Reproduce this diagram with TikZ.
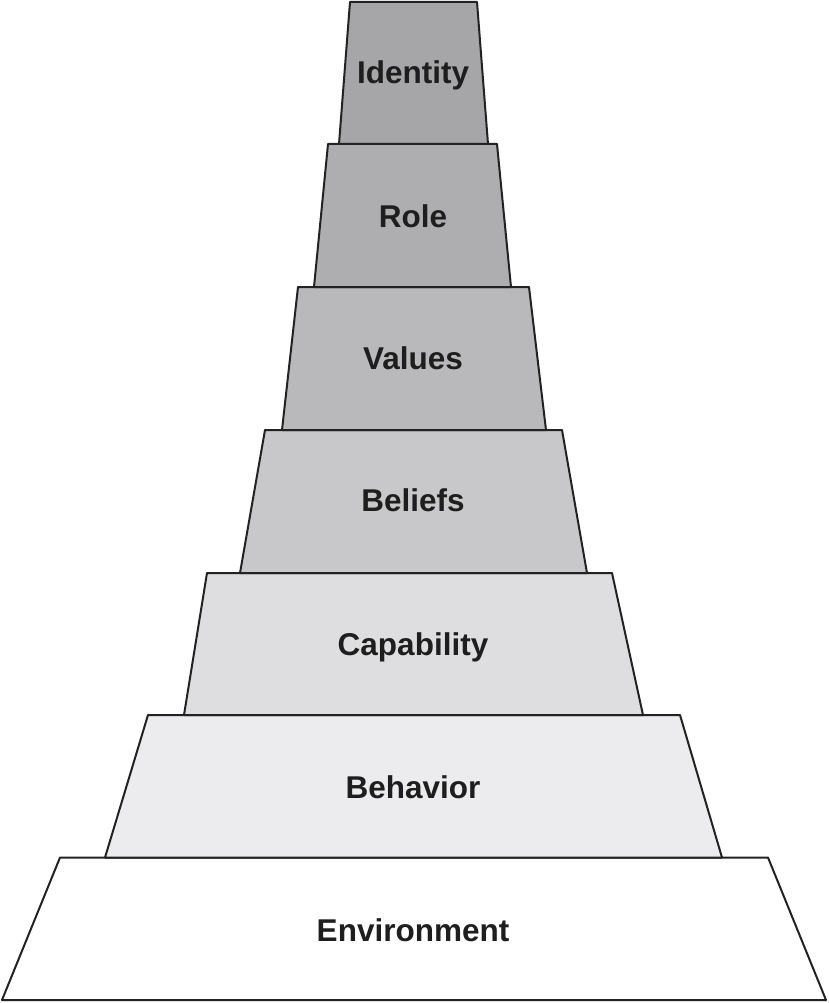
\documentclass[tikz,border=0pt]{standalone}
\usepackage{fontspec}
\setmainfont{Liberation Sans}
\definecolor{cIdentity}{RGB}{166,166,168}
\definecolor{cRole}{RGB}{174,174,176}
\definecolor{cValues}{RGB}{185,185,187}
\definecolor{cBeliefs}{RGB}{200,200,202}
\definecolor{cCapability}{RGB}{222,222,224}
\definecolor{cBehavior}{RGB}{236,236,238}
\definecolor{cEnvironment}{RGB}{255,255,255}
\definecolor{edge}{RGB}{34,34,34}
\definecolor{txt}{RGB}{30,30,30}
\tikzset{
  tier/.style={draw=edge, line width=2pt, line join=round},
  tierlabel/.style={font=\fontsize{31.5}{38}\selectfont\bfseries, text=txt, inner sep=0pt, anchor=base}
}
\begin{document}
\begin{tikzpicture}[x=1pt,y=-1pt]
\useasboundingbox (0,0) rectangle (828,1003);
\draw[tier, fill=cEnvironment] (60,857.5) -- (768,857.5) -- (826,1000) -- (2,1000) -- cycle;
\draw[tier, fill=cBehavior] (148,715) -- (680,715) -- (722,857.5) -- (105,857.5) -- cycle;
\draw[tier, fill=cCapability] (207,573) -- (612,573) -- (643,715) -- (184,715) -- cycle;
\draw[tier, fill=cBeliefs] (265,430) -- (562,430) -- (587,573) -- (240,573) -- cycle;
\draw[tier, fill=cValues] (298,287) -- (529,287) -- (546,430) -- (282,430) -- cycle;
\draw[tier, fill=cRole] (328,144) -- (497,144) -- (511,287) -- (314,287) -- cycle;
\draw[tier, fill=cIdentity] (350,2) -- (477,2) -- (488,144) -- (339,144) -- cycle;
\node[tierlabel] (identity) at (413,84) {Identity};
\node[tierlabel] (role) at (413,227) {Role};
\node[tierlabel] (values) at (413,369) {Values};
\node[tierlabel] (beliefs) at (413,511) {Beliefs};
\node[tierlabel] (capability) at (413,655) {Capability};
\node[tierlabel] (behavior) at (413,798) {Behavior};
\node[tierlabel] (environment) at (413,941) {Environment};
\end{tikzpicture}
\end{document}
